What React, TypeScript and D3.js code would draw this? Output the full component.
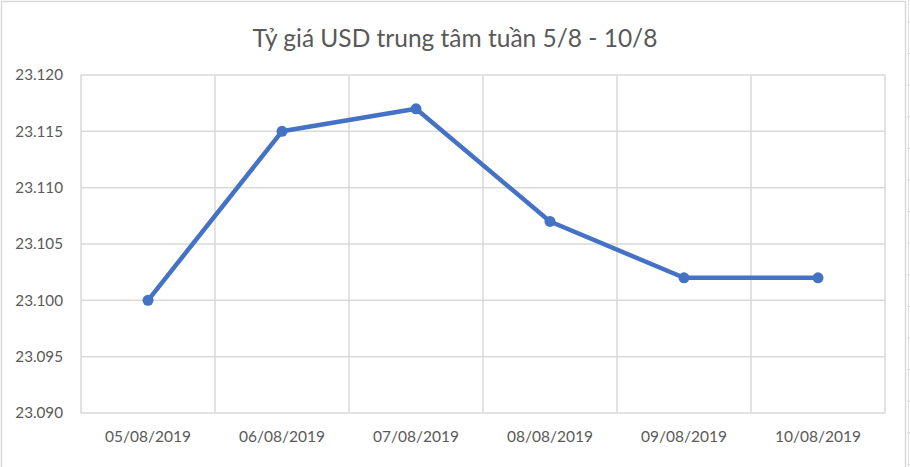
import * as d3 from "d3";

const title = "Tỷ giá USD trung tâm tuần 5/8 - 10/8";
const dates = [
  "05/08/2019",
  "06/08/2019",
  "07/08/2019",
  "08/08/2019",
  "09/08/2019",
  "10/08/2019",
];
const rates = [23.1, 23.115, 23.117, 23.107, 23.102, 23.102];
const yTicks = [23.09, 23.095, 23.1, 23.105, 23.11, 23.115, 23.12];

const width = 910;
const height = 467;
const font = "Lato, 'Open Sans', sans-serif";

export default function App() {
  const marginLeft = 81;
  const marginRight = 25;
  const marginTop = 75;
  const marginBottom = 54;

  const xScale = d3
    .scaleBand()
    .domain(dates)
    .range([marginLeft, width - marginRight]);

  const yScale = d3
    .scaleLinear()
    .domain([23.09, 23.12])
    .range([height - marginBottom, marginTop]);

  const line = d3
    .line<number>()
    .x((_, i) => xScale(dates[i])! + xScale.bandwidth() / 2)
    .y((d) => yScale(d));

  const fmt = (v: number) => v.toFixed(3);

  // spreadsheet row lines peeking at the edges
  const rowTicks = d3.range(22, height, 31.6);

  return (
    <svg
      width={width}
      height={height}
      style={{ position: "absolute", left: 0, top: 0, background: "#fff" }}
    >
      {rowTicks.map((y, i) => (
        <g key={i} stroke="#d9d9d9" strokeWidth={1}>
          <line x1={907} x2={910} y1={y} y2={y} />
        </g>
      ))}
      <line x1={908.5} x2={908.5} y1={0} y2={height} stroke="#e3e3e3" />

      {/* chart frame */}
      <rect
        x={1.5}
        y={1.5}
        width={904}
        height={height + 10}
        fill="#fff"
        stroke="#d9d9d9"
        strokeWidth={1.5}
      />

      <text
        x={width / 2}
        y={47}
        textAnchor="middle"
        fill="#595959"
        style={{ fontFamily: font, fontSize: 24.5 }}
      >
        {title}
      </text>

      {/* gridlines */}
      <g stroke="#d9d9d9" strokeWidth={1.5}>
        {yTicks.map((t) => (
          <line
            key={t}
            x1={marginLeft}
            x2={width - marginRight}
            y1={yScale(t)}
            y2={yScale(t)}
          />
        ))}
        {dates.map((d) => (
          <line
            key={d}
            x1={xScale(d)!}
            x2={xScale(d)!}
            y1={marginTop}
            y2={height - marginBottom}
          />
        ))}
        <line
          x1={width - marginRight}
          x2={width - marginRight}
          y1={marginTop}
          y2={height - marginBottom}
        />
      </g>

      {/* y axis labels */}
      <g fill="#595959" style={{ fontFamily: font, fontSize: 15.2 }}>
        {yTicks.map((t) => (
          <text
            key={t}
            x={63}
            y={yScale(t)}
            dy="0.35em"
            textAnchor="end"
          >
            {fmt(t)}
          </text>
        ))}
      </g>

      {/* x axis labels */}
      <g fill="#595959" style={{ fontFamily: font, fontSize: 15.5 }}>
        {dates.map((d) => (
          <text
            key={d}
            x={xScale(d)! + xScale.bandwidth() / 2}
            y={height - marginBottom + 24}
            dy="0.35em"
            textAnchor="middle"
          >
            {d}
          </text>
        ))}
      </g>

      <path
        d={line(rates)!}
        fill="none"
        stroke="#4472C4"
        strokeWidth={4.5}
        strokeLinejoin="round"
        strokeLinecap="round"
      />
      {rates.map((r, i) => (
        <circle
          key={i}
          cx={xScale(dates[i])! + xScale.bandwidth() / 2}
          cy={yScale(r)}
          r={5.5}
          fill="#4472C4"
        />
      ))}
    </svg>
  );
}
